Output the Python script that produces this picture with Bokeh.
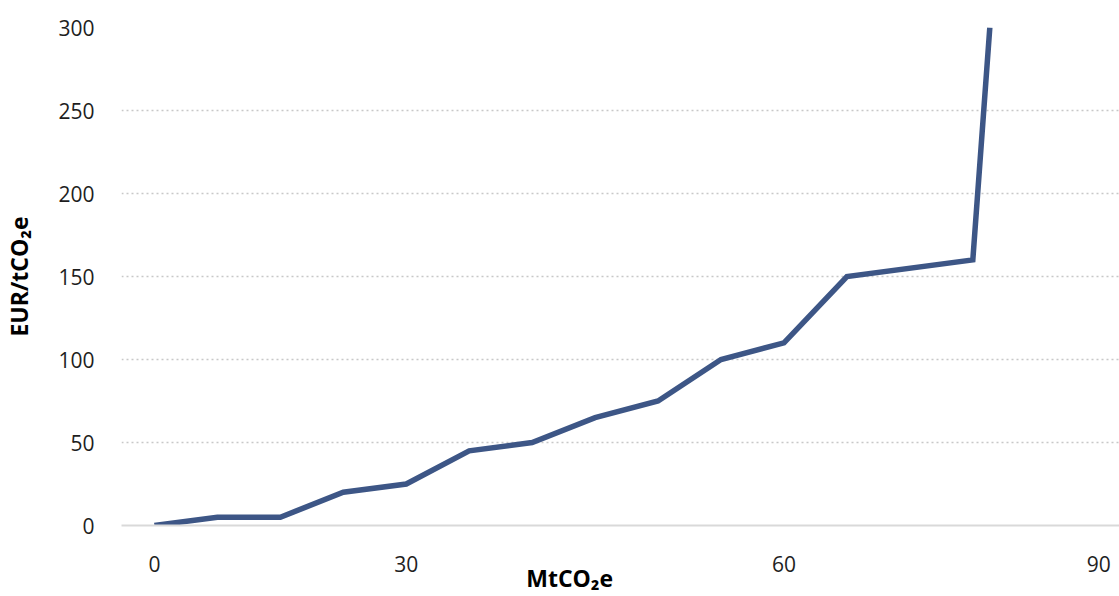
from bokeh.plotting import figure
from bokeh.models import Range1d, FixedTicker
from bokeh.embed import file_html
from bokeh.resources import INLINE

# Abatement cost curve: points placed at equal steps along the x axis
x_step = [0, 1, 2, 3, 4, 5, 6, 7, 8, 9, 10, 11, 13, 13.27]
cost_eur = [0, 5, 5, 20, 25, 45, 50, 65, 75, 100, 110, 150, 160, 300]

# x tick positions (in steps) and their MtCO2e labels
tick_pos = [0, 4, 10, 15]
tick_labels = ["0", "30", "60", "90"]
y_ticks = [0, 50, 100, 150, 200, 250, 300]

FONT = "Open Sans"

p = figure(
    width=1119, height=596,
    x_range=Range1d(-0.523, 15.33),
    y_range=Range1d(0, 300),
    output_backend="svg", toolbar_location=None,
    min_border_left=0, min_border_right=0,
    min_border_top=27, min_border_bottom=0,
)
p.outline_line_color = None
p.background_fill_color = "white"
p.border_fill_color = "white"

p.line(x_step, cost_eur, line_color="#3d5686", line_width=5.5,
       line_join="miter", line_cap="butt")

# x axis; trailing no-break spaces pull the centred title left, under 30–60
xa = p.xaxis[0]
xa.ticker = FixedTicker(ticks=tick_pos)
xa.major_label_overrides = {t: l for t, l in zip(tick_pos, tick_labels)}
xa.major_tick_line_color = None
xa.minor_tick_line_color = None
xa.axis_line_color = "#d9d9d9"
xa.axis_line_width = 2
xa.major_label_text_font = FONT
xa.major_label_text_font_size = "21px"
xa.major_label_text_color = "#1e1e1e"
xa.major_label_standoff = 24
xa.axis_label = "MtCO₂e" + "\u00a0" * 17
xa.axis_label_text_font = FONT
xa.axis_label_text_font_size = "23px"
xa.axis_label_text_font_style = "bold"
xa.axis_label_text_color = "#000000"
xa.axis_label_standoff = -13

# y axis
ya = p.yaxis[0]
ya.ticker = FixedTicker(ticks=y_ticks)
ya.major_tick_line_color = None
ya.minor_tick_line_color = None
ya.axis_line_color = None
ya.major_label_text_font = FONT
ya.major_label_text_font_size = "21px"
ya.major_label_text_color = "#1e1e1e"
ya.major_label_standoff = 21
ya.axis_label = "EUR/tCO₂e"
ya.axis_label_text_font = FONT
ya.axis_label_text_font_size = "23px"
ya.axis_label_text_font_style = "bold"
ya.axis_label_text_color = "#000000"
ya.axis_label_standoff = 20

p.xgrid.grid_line_color = None
p.ygrid.grid_line_color = "#c8c8c8"
p.ygrid.grid_line_width = 1.5
p.ygrid.grid_line_dash = "2 3"

open("out.html", "w").write(file_html(p, INLINE))
